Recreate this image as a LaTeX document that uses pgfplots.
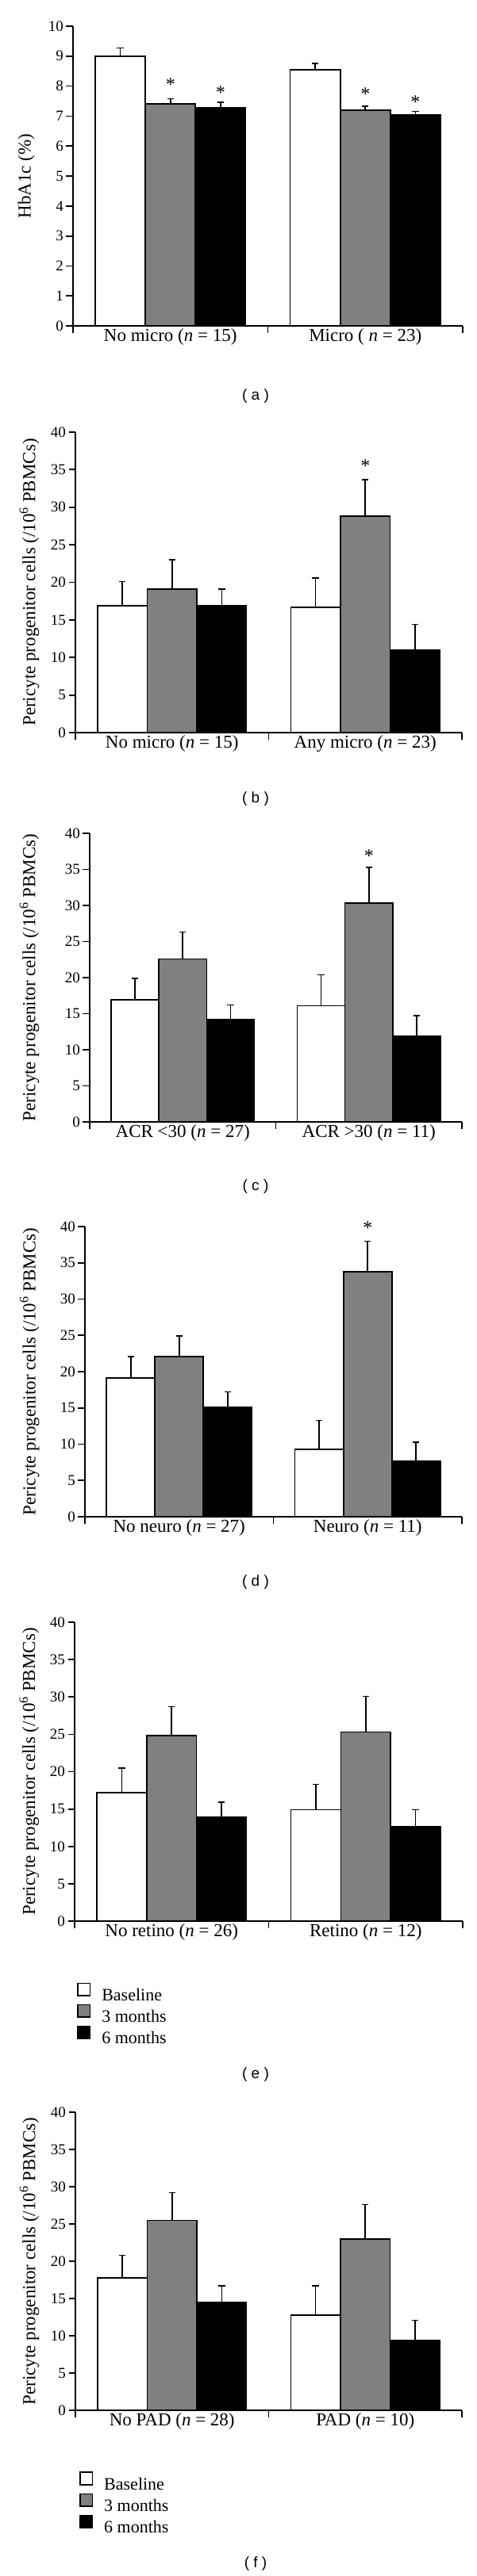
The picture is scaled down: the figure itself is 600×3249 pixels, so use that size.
\documentclass[border=0pt]{standalone}
\usepackage{fontspec}
\setmainfont{Liberation Serif}
\newfontfamily\capfont{Liberation Sans}
\usepackage{pgfplots}
\usepackage{pgfplotstable}
\pgfplotsset{compat=1.18}

\definecolor{midgray}{RGB}{128,128,128}

% g = group centre, b/t/s = baseline, 3 months, 6 months, *e = upper error
\pgfplotstableread{
g   b    be   t    te   s    se
0.5 9.00 0.27 7.40 0.18 7.29 0.17
1.5 8.55 0.21 7.20 0.13 7.04 0.12
}\tabA
\pgfplotstableread{
g   b    be   t    te   s    se
0.5 16.9 3.2  19.1 3.9  16.9 2.2
1.5 16.7 3.9  28.8 4.9  11.0 3.4
}\tabB
\pgfplotstableread{
g   b    be   t    te   s    se
0.5 16.9 3.0  22.6 3.7  14.2 2.0
1.5 16.1 4.3  30.3 5.0  11.9 2.8
}\tabC
\pgfplotstableread{
g   b    be   t    te   s    se
0.5 19.1 3.0  22.1 2.8  15.1 2.1
1.5  9.3 4.0  33.8 4.2   7.7 2.6
}\tabD
\pgfplotstableread{
g   b    be   t    te   s    se
0.5 17.2 3.3  24.8 3.9  13.9 2.0
1.5 14.9 3.4  25.3 4.8  12.6 2.3
}\tabE
\pgfplotstableread{
g   b    be   t    te   s    se
0.5 17.8 3.0  25.5 3.7  14.5 2.2
1.5 12.8 3.9  23.0 4.6   9.4 2.7
}\tabF

\pgfplotsset{
  panel/.style={
    scale only axis, anchor=south west,
    xmin=0, xmax=2, ymin=0,
    axis x line*=bottom, axis y line*=left,
    axis line style={line width=1.8pt},
    tick align=outside,
    major tick length=8.5pt,
    tick style={line width=1.8pt, black},
    xtick={0,1,2}, xticklabels={},
    extra x ticks={0.5,1.5},
    extra x tick style={major tick length=0pt},
    clip=false,
    y tick label style={font=\fontsize{19}{22}\selectfont},
    x tick label style={font=\fontsize{23}{26}\selectfont},
    /pgf/number format/assume math mode=true,
    ylabel style={font=\fontsize{23}{26}\selectfont, anchor=center},
    legend cell align=left,
    legend style={draw=none, fill=none, anchor=north west,
      font=\fontsize{22}{25}\selectfont, row sep=1pt,
      /tikz/every odd column/.append style={column sep=12pt}},
  },
  pericyte/.style={ymax=40, ytick={0,5,...,40},
    ylabel={Pericyte progenitor cells (/10\textsuperscript{6} PBMCs)}},
  bars/.style={ybar, bar width=0.257, bar shift=0pt,
    draw=black, line width=1.6pt,
    legend image code/.code={\draw[##1, line width=1.6pt] (0pt,-0.5pt) rectangle (15.5pt,15pt);},
    error bars/y dir=plus, error bars/y explicit,
    error bars/error bar style={line width=1.6pt, black, solid},
    error bars/error mark options={rotate=90, mark size=4.2pt, line width=1.6pt, black}},
}

\newcommand{\threebars}[1]{%
  \addplot[bars, fill=white] table[x expr=\thisrow{g}-0.257, y=b, y error=be] {#1};
  \addplot[bars, fill=midgray] table[x=g, y=t, y error=te] {#1};
  \addplot[bars, fill=black] table[x expr=\thisrow{g}+0.257, y=s, y error=se] {#1};
}

\begin{document}
\begin{tikzpicture}
\useasboundingbox (0pt,0pt) rectangle (600pt,-3249pt);
\tikzset{asterisk/.style={font=\fontsize{24}{26}\selectfont, inner sep=0pt, yshift=-3.5pt},
  panelcap/.style={font=\capfont\fontsize{19}{22}\selectfont}}

% (a)
\begin{axis}[panel, at={(92pt,-411pt)}, width=491pt, height=378pt,
  ymax=10, ytick={0,1,...,10}, ylabel={HbA1c (\%)},
  ylabel style={at={(axis description cs:-0.120,0.5)}},
  extra x tick labels={{No micro (\textit{n} = 15)},{Micro ( \textit{n} = 23)}}]
\threebars{\tabA}
\node[asterisk] at (axis cs:0.5,8.14) {*};
\node[asterisk] at (axis cs:0.757,7.87) {*};
\node[asterisk] at (axis cs:1.5,7.83) {*};
\node[asterisk] at (axis cs:1.757,7.57) {*};
\end{axis}
\node[panelcap] at (322pt,-500pt) {( a )};

% (b)
\begin{axis}[panel, pericyte, at={(95pt,-924pt)}, width=487pt, height=379pt,
  ylabel style={at={(axis description cs:-0.119,0.5)}},
  extra x tick labels={{No micro (\textit{n} = 15)},{Any micro (\textit{n} = 23)}}]
\threebars{\tabB}
\node[asterisk] at (axis cs:1.5,35.9) {*};
\end{axis}
\node[panelcap] at (322pt,-1008pt) {( b )};

% (c)
\begin{axis}[panel, pericyte, at={(113pt,-1415pt)}, width=469pt, height=364pt,
  ylabel style={at={(axis description cs:-0.162,0.5)}},
  extra x tick labels={{ACR <30 (\textit{n} = 27)},{ACR >30 (\textit{n} = 11)}}]
\threebars{\tabC}
\node[asterisk] at (axis cs:1.5,37.2) {*};
\end{axis}
\node[panelcap] at (322pt,-1497pt) {( c )};

% (d)
\begin{axis}[panel, pericyte, at={(107pt,-1913pt)}, width=475pt, height=366pt,
  ylabel style={at={(axis description cs:-0.147,0.5)}},
  extra x tick labels={{No neuro (\textit{n} = 27)},{Neuro (\textit{n} = 11)}}]
\threebars{\tabD}
\node[asterisk] at (axis cs:1.5,40.2) {*};
\end{axis}
\node[panelcap] at (322pt,-1996pt) {( d )};

% (e)
\begin{axis}[panel, pericyte, at={(94pt,-2423pt)}, width=489pt, height=377pt,
  ylabel style={at={(axis description cs:-0.117,0.5)}},
  extra x tick labels={{No retino (\textit{n} = 26)},{Retino (\textit{n} = 12)}},
  legend style={at={(axis description cs:0.0,-0.2)}}]
\threebars{\tabE}
\legend{Baseline,3 months,6 months}
\end{axis}
\node[panelcap] at (322pt,-2617pt) {( e )};

% (f)
\begin{axis}[panel, pericyte, at={(95pt,-3040pt)}, width=487pt, height=376pt,
  ylabel style={at={(axis description cs:-0.119,0.5)}},
  extra x tick labels={{No PAD (\textit{n} = 28)},{PAD (\textit{n} = 10)}},
  legend style={at={(axis description cs:0.004,-0.2)}}]
\threebars{\tabF}
\legend{Baseline,3 months,6 months}
\end{axis}
\node[panelcap] at (322pt,-3234pt) {( f )};
\end{tikzpicture}
\end{document}
